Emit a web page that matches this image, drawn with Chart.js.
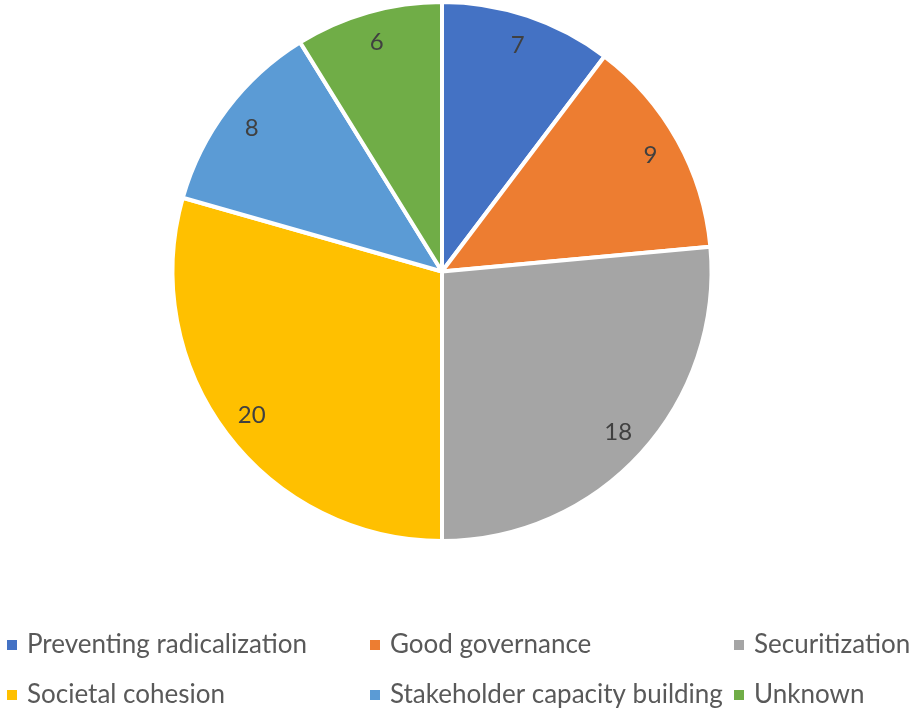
<!DOCTYPE html>
<html>
<head>
<meta charset="utf-8">
<script src="https://cdn.jsdelivr.net/npm/chart.js@4/dist/chart.umd.min.js"></script>
<style>
    html, body { margin: 0; padding: 0; background: #fff; }
    #wrap { width: 914px; height: 717px; position: relative; }
</style>
</head>
<body>
<div id="wrap"><canvas id="chart"></canvas></div>
<script>
// Data
const categories = ['Preventing radicalization', 'Good governance', 'Securitization',
    'Societal cohesion', 'Stakeholder capacity building', 'Unknown'];
const counts = [7, 9, 18, 20, 8, 6];
const sliceColors = ['#4472C4', '#ED7D31', '#A5A5A5', '#FFC000', '#5B9BD5', '#70AD47'];

const FONT = 'Lato, "Open Sans", sans-serif';

// Value labels inside the slices
const sliceLabels = {
    id: 'sliceLabels',
    afterDatasetsDraw(chart) {
        const ctx = chart.ctx;
        const meta = chart.getDatasetMeta(0);
        ctx.save();
        ctx.font = '24px ' + FONT;
        ctx.fillStyle = '#404040';
        ctx.textAlign = 'center';
        ctx.textBaseline = 'middle';
        meta.data.forEach((arc, i) => {
            const p = arc.getProps(['x', 'y', 'startAngle', 'endAngle', 'outerRadius'], true);
            const mid = (p.startAngle + p.endAngle) / 2;
            const r = p.outerRadius * 0.885;
            ctx.fillText(String(chart.data.datasets[0].data[i]), p.x + Math.cos(mid) * r, p.y + Math.sin(mid) * r);
        });
        ctx.restore();
    }
};

// Legend in a 3-column grid under the pie
const gridLegend = {
    id: 'gridLegend',
    afterDraw(chart) {
        const ctx = chart.ctx;
        const colX = [7, 370, 734];
        const rowY = [645, 695];
        ctx.save();
        ctx.font = '26px ' + FONT;
        ctx.textBaseline = 'middle';
        chart.data.labels.forEach((label, i) => {
            const x = colX[i % 3];
            const y = rowY[Math.floor(i / 3)];
            ctx.fillStyle = chart.data.datasets[0].backgroundColor[i];
            ctx.fillRect(x, y - 5, 10, 10);
            ctx.fillStyle = '#595959';
            ctx.fillText(label, x + 20, y);
        });
        ctx.restore();
    }
};

const ctx = document.getElementById('chart').getContext('2d');
const chart = new Chart(ctx, {
    type: 'pie',
    data: {
        labels: categories,
        datasets: [{
            data: counts,
            backgroundColor: sliceColors,
            borderColor: '#ffffff',
            borderWidth: 4
        }]
    },
    options: {
        responsive: true,
        maintainAspectRatio: false,
        animation: false,
        layout: {
            padding: { top: 0, bottom: 174, left: 0, right: 30 }
        },
        plugins: {
            legend: { display: false },
            tooltip: { enabled: false }
        }
    },
    plugins: [sliceLabels, gridLegend]
});
</script>
</body>
</html>
